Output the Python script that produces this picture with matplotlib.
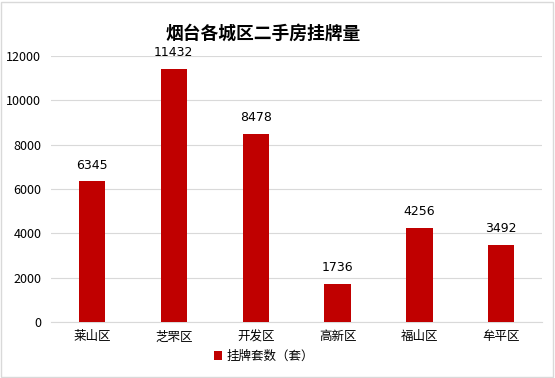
import matplotlib
matplotlib.use("Agg")
import matplotlib.pyplot as plt
from matplotlib.patches import Rectangle

plt.rcParams['font.family'] = ['Noto Sans CJK SC', 'DejaVu Sans']

categories = ["莱山区", "芝罘区", "开发区", "高新区", "福山区", "牟平区"]
values = [6345, 11432, 8478, 1736, 4256, 3492]
yticks = [0, 2000, 4000, 6000, 8000, 10000, 12000]
series_name = "挂牌套数（套）"
title = "烟台各城区二手房挂牌量"

fig = plt.figure(figsize=(5.55, 3.78), dpi=100)
ax = fig.add_axes([0.092, 0.148, 0.885, 0.704])
bars = ax.bar(range(len(categories)), values, width=0.32, color="#C00000", label=series_name, zorder=3)
ax.set_xlim(-0.5, len(categories) - 0.5)
ax.set_ylim(0, 12000)
ax.set_yticks(yticks)
ax.set_yticklabels([str(v) for v in yticks], fontsize=9, color="#000000")
ax.set_xticks(range(len(categories)))
ax.set_xticklabels(categories, fontsize=9)
ax.tick_params(axis='both', length=0, pad=6)
ax.tick_params(axis='y', pad=7)
ax.grid(axis='y', color="#D9D9D9", linewidth=0.8, zorder=0)
for s in ["top", "right", "left"]:
    ax.spines[s].set_visible(False)
ax.spines["bottom"].set_color("#D9D9D9")
for i, v in enumerate(values):
    ax.annotate(str(v), xy=(i, v), xytext=(0, 7), textcoords="offset points",
                ha="center", va="bottom", fontsize=9, family="DejaVu Sans")

fig.text(0.474, 0.912, title, ha="center", va="center", fontsize=12.8, fontweight="bold")
fig.legend(handles=[bars], labels=[series_name], loc="center", bbox_to_anchor=(0.475, 0.058),
           frameon=False, fontsize=9, handlelength=0.7, handleheight=0.7, handletextpad=0.3)
fig.patches.append(Rectangle((0.002, 0.003), 0.995, 0.993, transform=fig.transFigure,
                             fill=False, edgecolor="#D9D9D9", linewidth=1))
fig.savefig("out.png", dpi=100)
